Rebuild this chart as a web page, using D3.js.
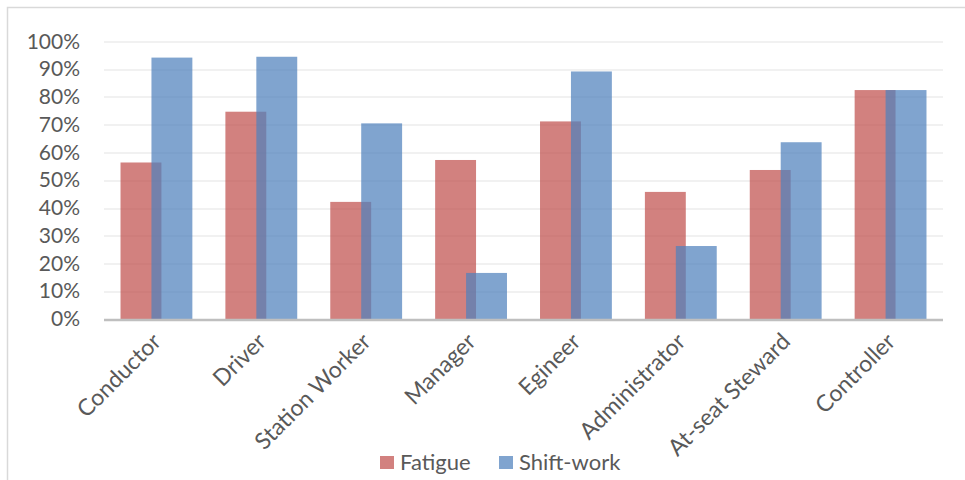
<!DOCTYPE html>
<html>
<head>
<meta charset="utf-8">
<script src="https://cdn.jsdelivr.net/npm/d3@7"></script>
<style>
  html, body { margin: 0; padding: 0; background: #fff; }
  svg { display: block; font-family: Lato, "Open Sans", sans-serif; }
</style>
</head>
<body>
<svg id="chart" width="965" height="480"></svg>
<script>
// Job roles and the share of respondents reporting each factor
const categories = ["Conductor", "Driver", "Station Worker", "Manager", "Egineer",
                    "Administrator", "At-seat Steward", "Controller"];
const fatigue   = [0.564, 0.747, 0.422, 0.573, 0.712, 0.458, 0.537, 0.825];
const shiftWork = [0.942, 0.945, 0.705, 0.166, 0.892, 0.263, 0.637, 0.825];
const seriesNames = ["Fatigue", "Shift-work"];
const yTicks = [0, 0.1, 0.2, 0.3, 0.4, 0.5, 0.6, 0.7, 0.8, 0.9, 1.0];

const colors = { "Fatigue": "#C0504D", "Shift-work": "#4F81BD" };
const barAlpha = 0.72;

const svg = d3.select("#chart");
const W = 965, H = 480;
const margin = { left: 104, right: 22, top: 41.5, bottom: 161 };
const plotW = W - margin.left - margin.right;
const plotH = H - margin.top - margin.bottom;

// outer chart frame
svg.append("rect")
  .attr("x", 7.5).attr("y", 7.5)
  .attr("width", W + 10).attr("height", H + 10)
  .attr("fill", "none").attr("stroke", "#d9d9d9").attr("stroke-width", 1.5);

const g = svg.append("g").attr("transform", `translate(${margin.left},${margin.top})`);

const x = d3.scaleBand().domain(categories).range([0, plotW]).paddingInner(0).paddingOuter(0);
const y = d3.scaleLinear().domain([0, 1]).range([plotH, 0]);

const bw = x.bandwidth();
const barW = bw * 0.39;
const shift = bw * 0.295;     // horizontal offset between the two overlapping bars
const groupW = barW + shift;

// horizontal gridlines
g.append("g")
  .selectAll("line")
  .data(yTicks.slice(1))
  .join("line")
  .attr("x1", 0).attr("x2", plotW)
  .attr("y1", d => Math.round(y(d)) + 0.5).attr("y2", d => Math.round(y(d)) + 0.5)
  .attr("stroke", "#ececec").attr("stroke-width", 1.5);

// y axis labels
const yAxis = d3.axisLeft(y).tickValues(yTicks).tickFormat(d3.format(".0%")).tickSize(0).tickPadding(24);
const ya = g.append("g").call(yAxis);
ya.select(".domain").remove();
ya.selectAll("text")
  .attr("fill", "#595959")
  .style("font-size", "21px")
  .style("font-family", "Lato, 'Open Sans', sans-serif");

// bars
const rows = categories.map((c, i) => ({ c, vals: [fatigue[i], shiftWork[i]] }));
seriesNames.forEach((s, si) => {
  g.append("g")
    .selectAll("rect")
    .data(rows)
    .join("rect")
    .attr("x", d => x(d.c) + (bw - groupW) / 2 + si * shift)
    .attr("y", d => y(d.vals[si]))
    .attr("width", barW)
    .attr("height", d => plotH - y(d.vals[si]))
    .attr("fill", colors[s])
    .attr("fill-opacity", barAlpha);
});

// x axis baseline
g.append("line")
  .attr("x1", 0).attr("x2", plotW)
  .attr("y1", plotH + 1).attr("y2", plotH + 1)
  .attr("stroke", "#bfbfbf").attr("stroke-width", 2.5);

// rotated category labels
const xAxis = d3.axisBottom(x).tickSize(0).tickPadding(0);
const xa = g.append("g").attr("transform", `translate(0,${plotH})`).call(xAxis);
xa.select(".domain").remove();
xa.selectAll("text")
  .attr("fill", "#595959")
  .style("font-size", "23px")
  .style("font-family", "Lato, 'Open Sans', sans-serif")
  .attr("text-anchor", "end")
  .attr("dy", null)
  .attr("y", 0)
  .attr("transform", "translate(6,24) rotate(-45)");

// legend
const legend = svg.append("g").attr("transform", "translate(380,456)");
const lx = [0, 119];
seriesNames.forEach((s, i) => {
  const item = legend.append("g").attr("transform", `translate(${lx[i]},0)`);
  item.append("rect").attr("width", 14).attr("height", 13)
    .attr("fill", colors[s]).attr("fill-opacity", barAlpha);
  item.append("text").attr("x", 20).attr("y", 14)
    .attr("fill", "#595959").style("font-size", "22px")
    .text(s);
});
</script>
</body>
</html>
